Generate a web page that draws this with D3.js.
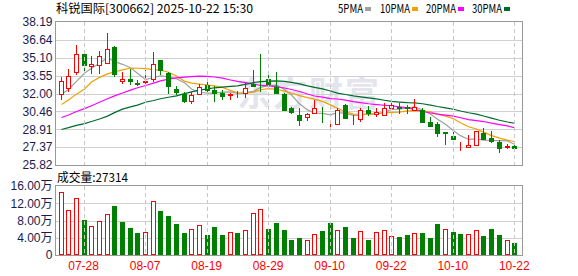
<!DOCTYPE html>
<html>
<head>
<meta charset="utf-8">
<script src="https://cdn.jsdelivr.net/npm/d3@7"></script>
<style>
  body { margin: 0; background: #fff; }
  svg { display: block; }
  text { font-family: "Liberation Sans", Arial, "Noto Sans CJK SC", sans-serif; }
</style>
</head>
<body>
<div id="chart"></div>
<script>
var dates = ["07-23","07-24","07-25","07-28","07-29","07-30","07-31","08-01","08-04","08-05",
    "08-06","08-07","08-08","08-11","08-12","08-13","08-14","08-15","08-18","08-19",
    "08-20","08-21","08-22","08-25","08-26","08-27","08-28","08-29","09-01","09-02",
    "09-03","09-04","09-05","09-08","09-09","09-10","09-11","09-12","09-15","09-16",
    "09-17","09-18","09-19","09-22","09-23","09-24","09-25","09-26","09-29","09-30",
    "10-09","10-10","10-13","10-14","10-15","10-16","10-17","10-20","10-21","10-22"];

var openP = [31.91,32.43,33.86,35.39,34.38,34.44,34.64,36.02,33.09,33.29,
    32.95,33.00,33.29,34.87,33.78,32.37,32.00,31.37,32.00,32.72,
    32.29,32.06,31.91,31.98,32.06,32.85,33.52,33.29,32.57,32.00,
    30.71,30.13,29.93,30.27,30.50,29.68,29.41,31.05,29.84,29.76,
    30.56,30.25,30.22,30.79,30.85,30.82,30.62,30.56,29.55,29.35,
    28.66,28.32,27.38,27.40,27.60,28.61,28.12,27.83,27.44,27.49];
var highP = [33.43,34.15,36.16,35.79,35.22,35.68,37.23,36.14,33.86,34.15,
    33.20,34.07,35.59,34.93,33.86,32.63,32.10,32.14,32.86,33.20,
    32.63,32.29,32.02,32.23,32.92,34.07,35.39,33.90,33.86,32.02,
    30.85,30.71,30.33,31.42,30.85,29.75,30.71,31.13,30.13,30.79,
    30.91,30.79,31.19,31.15,31.19,31.00,31.57,30.71,29.99,29.55,
    28.70,28.70,27.83,28.41,28.80,28.98,28.78,27.95,27.62,27.74];
var lowP = [31.48,32.14,33.58,33.86,33.72,33.66,34.58,33.43,32.80,32.72,
    32.63,32.86,33.00,33.58,31.94,31.85,31.19,31.08,31.85,32.14,
    31.28,31.48,31.42,31.65,31.65,32.60,32.14,32.43,32.00,30.50,
    30.27,29.18,29.61,30.22,29.41,28.98,29.27,29.84,29.27,29.55,
    30.04,29.93,30.13,30.70,30.22,30.22,30.50,29.52,29.09,28.26,
    27.54,27.97,27.05,27.38,27.55,28.03,27.74,26.88,27.23,27.25];
var closeP = [33.06,33.49,35.39,34.44,34.58,35.22,35.88,33.66,33.29,33.09,
    32.90,33.09,34.58,34.01,32.63,32.08,31.37,31.91,32.57,32.29,
    32.06,31.80,32.00,31.95,32.51,32.72,33.49,32.86,32.06,30.62,
    30.33,29.70,30.22,30.71,30.46,29.72,30.62,29.90,29.88,30.56,
    30.27,30.42,30.79,31.05,30.79,30.76,30.85,29.55,29.18,28.55,
    28.60,28.06,27.41,27.54,28.78,28.12,27.83,27.34,27.50,27.31];

// 成交量, 万
var volume = [14.6,10.5,13.3,8.1,6.7,7.9,9.6,11.3,7.7,6.3,
    5.2,5.4,12.6,10.1,9.1,7.1,5.0,6.1,7.0,4.6,
    6.4,4.6,5.4,5.0,5.8,9.8,10.7,6.1,7.5,5.9,
    3.5,3.9,3.4,4.8,5.5,7.5,5.9,6.6,3.9,5.6,
    3.5,5.4,5.8,4.5,4.2,4.6,5.2,5.0,3.9,7.1,
    6.0,5.3,4.9,4.9,5.8,4.4,6.0,4.6,3.5,2.7314];

var ma5 = [31.95,32.35,33.05,33.75,34.19,34.62,35.10,34.76,34.53,34.23,
    33.76,33.21,33.39,33.53,33.44,33.28,32.93,32.40,32.11,32.04,
    32.04,32.13,32.14,32.02,32.06,32.20,32.53,32.71,32.73,32.35,
    31.87,31.11,30.59,30.32,30.28,30.16,30.35,30.28,30.12,30.14,
    30.25,30.21,30.38,30.62,30.66,30.76,30.85,30.60,30.23,29.78,
    29.35,28.79,28.36,28.03,28.08,27.98,27.94,27.92,27.91,27.62];
var ma10 = [31.05,31.45,31.95,32.40,33.00,33.40,33.70,33.88,34.05,34.21,
    34.19,34.15,34.07,34.03,33.84,33.52,33.07,32.90,32.82,32.74,
    32.66,32.53,32.27,32.07,32.05,32.12,32.33,32.43,32.37,32.21,
    32.03,31.82,31.65,31.52,31.32,31.02,30.73,30.43,30.22,30.21,
    30.20,30.28,30.33,30.37,30.40,30.50,30.53,30.49,30.42,30.22,
    30.05,29.82,29.48,29.13,28.93,28.66,28.36,28.14,27.97,27.85];
var ma20 = [29.93,30.15,30.45,30.70,30.95,31.25,31.55,31.80,32.05,32.30,
    32.50,32.70,32.90,33.10,33.25,33.35,33.42,33.47,33.50,33.48,
    33.43,33.34,33.17,33.05,32.94,32.82,32.70,32.66,32.60,32.48,
    32.35,32.18,31.96,31.79,31.69,31.57,31.53,31.43,31.30,31.21,
    31.12,31.05,30.99,30.94,30.86,30.76,30.63,30.46,30.32,30.22,
    30.13,30.05,29.91,29.75,29.66,29.58,29.44,29.32,29.20,29.04];
var ma30 = [28.89,29.05,29.25,29.40,29.58,29.80,30.05,30.35,30.65,30.85,
    31.00,31.25,31.40,31.55,31.68,31.80,32.00,32.15,32.30,32.40,
    32.50,32.56,32.62,32.66,32.80,32.95,33.04,33.08,33.09,33.05,
    32.96,32.84,32.66,32.54,32.40,32.22,32.04,31.92,31.80,31.72,
    31.63,31.54,31.42,31.32,31.26,31.21,31.20,31.12,31.00,30.88,
    30.76,30.64,30.49,30.34,30.22,30.06,29.87,29.69,29.54,29.43];

var priceTicks = [25.82, 27.37, 28.91, 30.46, 32.00, 33.55, 35.10, 36.64, 38.19];
var volTicks = [0, 4, 8, 12, 16];
var dateTicks = ["07-28","08-07","08-19","08-29","09-10","09-22","10-10","10-22"];

var maNames = ["5PMA", "10PMA", "20PMA", "30PMA"];
var maColors = ["#a0a0a0", "#f0a000", "#ff00ff", "#006b2e"];
var maSeries = [ma5, ma10, ma20, ma30];

var W = 578, H = 276;
var left = 55.5, right = 522.5;
var RED = "#ff0000", GREEN = "#008000";
var CJK = "'Noto Sans CJK SC', sans-serif";

var svg = d3.select("#chart").append("svg")
    .attr("width", W)
    .attr("height", H);

var x = d3.scaleBand()
    .domain(dates)
    .range([56.66, 518.1])
    .padding(0);

function cx(i){
    return Math.round(x(dates[i]) + x.bandwidth() / 2);
}

var y = d3.scaleLinear().domain([25.82, 38.19]).range([165, 22]);
var yv = d3.scaleLinear().domain([0, 16]).range([255, 186]);

function crisp(v){ return Math.round(v) + 0.5; }

// ---- titles
svg.append("text")
    .attr("x", 56).attr("y", 13)
    .attr("textLength", 197).attr("lengthAdjust", "spacingAndGlyphs")
    .style("font-family", CJK)
    .style("font-size", "12px")
    .attr("fill", "#000")
    .text("科锐国际[300662] 2025-10-22 15:30");

// legend: x of each label and its width
var legendX = [338, 380, 426, 472];
var legendW = [25, 30, 30, 30];
maNames.forEach(function(name, k){
    svg.append("text")
        .attr("x", legendX[k]).attr("y", 13)
        .attr("textLength", legendW[k]).attr("lengthAdjust", "spacingAndGlyphs")
        .style("font-family", CJK)
        .style("font-size", "12px")
        .attr("fill", "#000")
        .text(name);
    svg.append("rect")
        .attr("x", legendX[k] + legendW[k] + 2).attr("y", 7)
        .attr("width", 6).attr("height", 4)
        .attr("fill", maColors[k]);
});

svg.append("text")
    .attr("x", 57).attr("y", 182)
    .attr("textLength", 71).attr("lengthAdjust", "spacingAndGlyphs")
    .style("font-family", CJK)
    .style("font-size", "12px")
    .attr("fill", "#000")
    .text("成交量:27314");

// ---- watermark
svg.append("text")
    .attr("x", 237).attr("y", 106)
    .style("font-family", CJK)
    .style("font-size", "34px")
    .style("font-weight", "bold")
    .style("letter-spacing", "2px")
    .attr("fill", "#e4e4ec")
    .text("东方财富");

// ---- grids
var main = svg.append("g");
var vol = svg.append("g");

main.selectAll(".hgrid").data(priceTicks.slice(1, -1)).enter().append("line")
    .attr("x1", left).attr("x2", right)
    .attr("y1", function(d){ return crisp(y(d)); })
    .attr("y2", function(d){ return crisp(y(d)); })
    .style("stroke", "#d0d0d0");

vol.selectAll(".hgrid").data(volTicks.slice(1, -1)).enter().append("line")
    .attr("x1", left).attr("x2", right)
    .attr("y1", function(d){ return crisp(yv(d)); })
    .attr("y2", function(d){ return crisp(yv(d)); })
    .style("stroke", "#d0d0d0");

[[y(38.19), y(25.82)], [yv(16), yv(0)]].forEach(function(r){
    svg.append("g").selectAll("line").data(dateTicks).enter().append("line")
        .attr("x1", function(d){ return cx(dates.indexOf(d)) + 0.5; })
        .attr("x2", function(d){ return cx(dates.indexOf(d)) + 0.5; })
        .attr("y1", r[0]).attr("y2", r[1])
        .style("stroke", "#c8c8c8")
        .style("stroke-dasharray", "4,3");
});

// ---- moving averages
maSeries.forEach(function(series, k){
    var line = d3.line()
        .x(function(d, i){ return cx(i) + 0.5; })
        .y(function(d){ return y(d); });
    main.append("path")
        .datum(series)
        .attr("d", line)
        .style("fill", "none")
        .style("stroke", maColors[k])
        .style("stroke-width", 1.2);
});

// ---- candles
var candles = main.selectAll(".candle").data(dates).enter().append("g")
    .attr("class", "candle")
    .style("shape-rendering", "crispEdges");

candles.append("line")
    .attr("x1", function(d, i){ return cx(i) + 0.5; })
    .attr("x2", function(d, i){ return cx(i) + 0.5; })
    .attr("y1", function(d, i){ return y(highP[i]); })
    .attr("y2", function(d, i){ return y(lowP[i]); })
    .style("stroke", function(d, i){ return closeP[i] >= openP[i] ? RED : GREEN; });

candles.append("rect")
    .attr("x", function(d, i){ return cx(i) - 1.5; })
    .attr("width", 4)
    .attr("y", function(d, i){ return Math.round(y(Math.max(openP[i], closeP[i]))) + 0.5; })
    .attr("height", function(d, i){
        return Math.max(0, Math.round(Math.abs(y(openP[i]) - y(closeP[i]))));
    })
    .style("fill", function(d, i){ return closeP[i] >= openP[i] ? "#fff" : GREEN; })
    .style("stroke", function(d, i){ return closeP[i] >= openP[i] ? RED : GREEN; });

// ---- volume bars
vol.selectAll(".vbar").data(volume).enter().append("rect")
    .attr("x", function(d, i){ return cx(i) - 1.5; })
    .attr("width", 4)
    .attr("y", function(d){ return Math.round(yv(d)) + 0.5; })
    .attr("height", function(d){ return Math.round(yv(0) - yv(d)) - 1; })
    .style("shape-rendering", "crispEdges")
    .style("fill", function(d, i){ return (i === 0 || closeP[i] >= closeP[i - 1]) ? "#fff" : GREEN; })
    .style("stroke", function(d, i){ return (i === 0 || closeP[i] >= closeP[i - 1]) ? RED : GREEN; });

// ---- frames
svg.append("rect")
    .attr("x", left).attr("y", 21.5)
    .attr("width", right - left).attr("height", 165.5 - 21.5)
    .style("fill", "none").style("stroke", "#999");
svg.append("rect")
    .attr("x", left).attr("y", 185.5)
    .attr("width", right - left).attr("height", 255.5 - 185.5)
    .style("fill", "none").style("stroke", "#999");

// ---- axes
var yAxis = svg.append("g")
    .attr("transform", "translate(" + left + ",0)")
    .call(d3.axisLeft(y).tickValues(priceTicks).tickSize(0).tickPadding(3)
        .tickFormat(function(d){ return d.toFixed(2); }));
var vAxis = svg.append("g")
    .attr("transform", "translate(" + left + ",0)")
    .call(d3.axisLeft(yv).tickValues(volTicks).tickSize(0).tickPadding(3)
        .tickFormat(function(d){ return d === 0 ? "0" : d.toFixed(2) + "万"; }));
var xAxis = svg.append("g")
    .attr("transform", "translate(0,255)")
    .call(d3.axisBottom(x).tickValues(dateTicks).tickSize(0).tickPadding(6));

[yAxis, vAxis, xAxis].forEach(function(a){
    a.select(".domain").remove();
    a.selectAll("text")
        .style("font-family", "'Liberation Sans', Arial, 'Noto Sans CJK SC', sans-serif")
        .style("font-size", "12px");
});
yAxis.selectAll("text").attr("fill", "#1a1a50");
vAxis.selectAll("text").attr("fill", "#1a1a50");
xAxis.selectAll("text").attr("fill", RED);
</script>
</body>
</html>
